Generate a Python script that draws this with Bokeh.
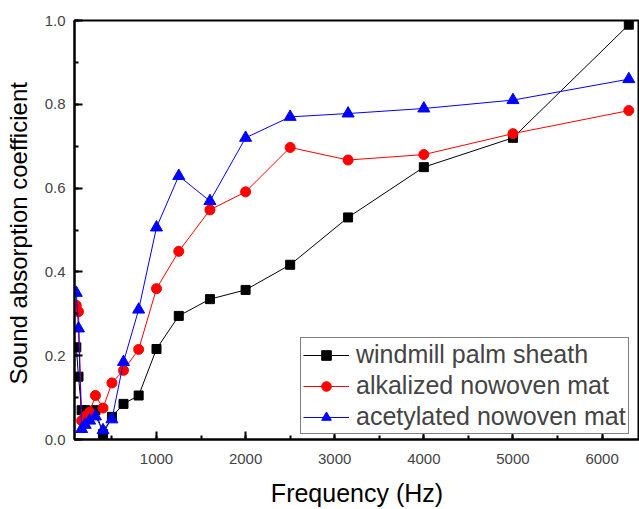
from bokeh.plotting import figure
from bokeh.models import SingleIntervalTicker, NumeralTickFormatter, Range1d
from bokeh.embed import file_html
from bokeh.resources import INLINE

freq = [100, 125, 160, 200, 250, 315, 400, 500, 630, 800, 1000, 1250, 1600,
        2000, 2500, 3150, 4000, 5000, 6300]
palm_sheath = [0.22, 0.15, 0.07, 0.07, 0.065, 0.07, 0.013, 0.054, 0.085, 0.105,
               0.216, 0.295, 0.335, 0.357, 0.417, 0.53, 0.65, 0.72, 0.99]
alkalized = [0.32, 0.305, 0.045, 0.055, 0.065, 0.105, 0.075, 0.135, 0.165, 0.215,
             0.36, 0.449, 0.548, 0.591, 0.697, 0.667, 0.68, 0.73, 0.785]
acetylated = [0.35, 0.265, 0.025, 0.035, 0.045, 0.055, 0.022, 0.048, 0.185, 0.31,
              0.506, 0.629, 0.569, 0.72, 0.77, 0.778, 0.79, 0.81, 0.86]

series = [
    ("windmill palm sheath", palm_sheath, "#000000", "square", 9),
    ("alkalized nowoven mat", alkalized, "#ff0000", "circle", 10),
    ("acetylated nowoven mat", acetylated, "#0000ff", "triangle", 12),
]

FONT = "Liberation Sans"

p = figure(width=639, height=509, output_backend="svg", toolbar_location=None,
           x_range=Range1d(80, 6420), y_range=Range1d(0, 1.0),
           min_border_left=74, min_border_right=0, min_border_top=20,
           min_border_bottom=67)
p.xgrid.visible = False
p.ygrid.visible = False
p.outline_line_color = "black"
p.outline_line_width = 2
p.background_fill_color = "white"
p.border_fill_color = "white"

for label, vals, color, marker, size in series:
    p.line(freq, vals, line_color=color, line_width=1, legend_label=label)
    p.scatter(freq, vals, marker=marker, size=size, fill_color=color,
              line_color=color, legend_label=label)

xa = p.xaxis[0]
xa.ticker = SingleIntervalTicker(interval=1000, num_minor_ticks=2)
xa.axis_label = "Frequency (Hz)"
ya = p.yaxis[0]
ya.ticker = SingleIntervalTicker(interval=0.2, num_minor_ticks=2)
ya.formatter = NumeralTickFormatter(format="0.0")
ya.axis_label = "Sound  absorption coefficient"

for ax in (xa, ya):
    ax.axis_line_width = 2
    ax.axis_line_color = "black"
    ax.major_tick_in = 8
    ax.major_tick_out = 0
    ax.minor_tick_in = 4
    ax.minor_tick_out = 0
    ax.major_tick_line_width = 2
    ax.minor_tick_line_width = 2
    ax.major_label_text_font = FONT
    ax.major_label_text_font_size = "15px"
    ax.major_label_text_color = "#444444"
    ax.axis_label_text_font = FONT
    ax.axis_label_text_font_style = "normal"
    ax.axis_label_text_color = "#000000"

xa.axis_label_text_font_size = "25px"
ya.axis_label_text_font_size = "24px"
xa.major_label_standoff = 14
xa.axis_label_standoff = 12
ya.major_label_standoff = 9
ya.axis_label_standoff = 10

leg = p.legend[0]
leg.location = (226, 5)
leg.border_line_color = "black"
leg.border_line_width = 1
leg.background_fill_alpha = 1
leg.label_text_font = FONT
leg.label_text_font_size = "25px"
leg.label_height = 24
leg.glyph_height = 24
leg.glyph_width = 46
leg.spacing = 2
leg.padding = 2
leg.margin = 0
leg.label_standoff = 7

open("out.html", "w").write(file_html(p, INLINE))
